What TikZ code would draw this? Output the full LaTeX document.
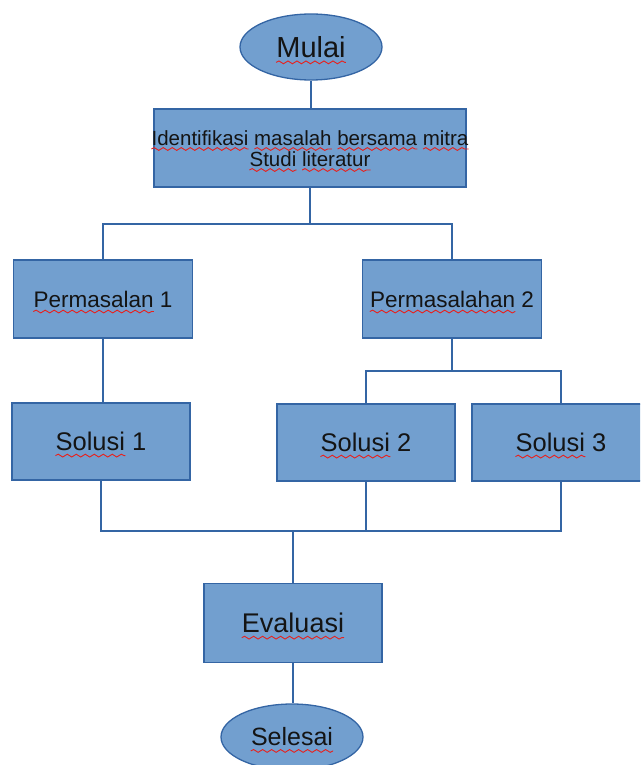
\documentclass[tikz,border=0pt]{standalone}
\usepackage{fontspec}
\setmainfont{Liberation Sans}
\usetikzlibrary{shapes.geometric,decorations.pathmorphing}
\definecolor{boxfill}{HTML}{729FCF}
\definecolor{boxline}{HTML}{3465A4}
\definecolor{wavered}{HTML}{E8201C}
\definecolor{ink}{HTML}{141414}
\newcommand\fntMulai{\fontsize{29}{33}\selectfont}
\newcommand\fntIdent{\fontsize{20.5}{24}\selectfont}
\newcommand\fntPerm{\fontsize{22.5}{26}\selectfont}
\newcommand\fntSol{\fontsize{25.5}{29}\selectfont}
\newcommand\fntEval{\fontsize{27}{31}\selectfont}
\newcommand\fntSel{\fontsize{25}{29}\selectfont}
\begin{document}
\begin{tikzpicture}[x=1pt,y=-1pt,
  box/.style={draw=boxline, line width=1.3pt, fill=boxfill, minimum width=#1, minimum height=78pt, inner sep=0pt},
  box/.default=178pt,
  oval/.style={ellipse, draw=boxline, line width=1.3pt, fill=boxfill, minimum width=142pt, minimum height=66pt, inner sep=0pt},
  conn/.style={draw=boxline, line width=1.4pt},
  txt/.style={inner sep=0pt, text=ink},
  sq/.style={draw=wavered, line width=0.9pt, decorate, decoration={snake, segment length=9pt, amplitude=1.4pt}}]
\useasboundingbox (0,0) rectangle (640,765);
\clip (0,0) rectangle (640,765);

% shapes
\node[oval] (mulai) at (311,47) {};
\node[box=312pt] (ident) at (310,148) {};
\node[box=179pt] (p1) at (103,299) {};
\node[box=179pt] (p2) at (452,299) {};
\node[box=178pt, minimum height=77pt] (s1) at (101,441.5) {};
\node[box=178pt, minimum height=77pt] (s2) at (366,442.5) {};
\node[box=178pt, minimum height=77pt] (s3) at (561,442.5) {};
\node[box=178pt, minimum height=79pt] (eval) at (293,623) {};
\node[oval] (sel) at (292,737) {};

% junction points
\coordinate (j1) at (310,224);
\coordinate (j2) at (452,371);
\coordinate (j3) at (293,531);

% connectors
\draw[conn] (mulai.south) -- (mulai.south |- ident.north);
\draw[conn] (ident.south) -- (j1);
\draw[conn] (p1.north) |- (j1) -| (p2.north);
\draw[conn] (p1.south) -- (p1.south |- s1.north);
\draw[conn] (p2.south) -- (j2);
\draw[conn] (s2.north) |- (j2) -| (s3.north);
\draw[conn] (s1.south) |- (s3.south |- j3) -- (s3.south);
\draw[conn] (s2.south) -- (s2.south |- j3);
\draw[conn] (j3) -- (eval.north);
\draw[conn] (eval.south) -- (eval.south |- sel.north);

% texts
\node[txt, font=\fntMulai] (tmulai) at (mulai) {Mulai};
\draw[sq] ([yshift=-5pt]tmulai.base west) -- ([yshift=-5pt]tmulai.base east);

\node[txt, font=\fntIdent, anchor=base] (l1) at (310,145) {Identifikasi masalah bersama mitra};
\node[txt, font=\fntIdent, anchor=base west] (wa) at (l1.base west) {\phantom{Identifikasi}};
\node[txt, font=\fntIdent, anchor=base west] (wb) at (l1.base west) {\phantom{Identifikasi masalah}};
\node[txt, font=\fntIdent, anchor=base west] (wc) at (l1.base west) {\phantom{Identifikasi masalah bersama}};
\draw[sq] ([yshift=-4pt]l1.base west) -- ([yshift=-4pt]wa.base east);
\draw[sq] ([xshift=5.7pt,yshift=-4pt]wa.base east) -- ([yshift=-4pt]wb.base east);
\draw[sq] ([xshift=5.7pt,yshift=-4pt]wb.base east) -- ([yshift=-4pt]wc.base east);
\draw[sq] ([xshift=5.7pt,yshift=-4pt]wc.base east) -- ([yshift=-4pt]l1.base east);
\node[txt, font=\fntIdent, anchor=base] (l2) at (310,166) {Studi literatur};
\node[txt, font=\fntIdent, anchor=base west] (wd) at (l2.base west) {\phantom{Studi}};
\draw[sq] ([yshift=-4pt]l2.base west) -- ([yshift=-4pt]wd.base east);
\draw[sq] ([xshift=5.7pt,yshift=-4pt]wd.base east) -- ([yshift=-4pt]l2.base east);

\node[txt, font=\fntPerm] (tp1) at (p1) {Permasalan 1};
\node[txt, font=\fntPerm, anchor=base west] (wp1) at (tp1.base west) {\phantom{Permasalan}};
\draw[sq] ([yshift=-4.5pt]tp1.base west) -- ([yshift=-4.5pt]wp1.base east);

\node[txt, font=\fntPerm] (tp2) at (p2) {Permasalahan 2};
\node[txt, font=\fntPerm, anchor=base west] (wp2) at (tp2.base west) {\phantom{Permasalahan}};
\draw[sq] ([yshift=-4.5pt]tp2.base west) -- ([yshift=-4.5pt]wp2.base east);

\node[txt, font=\fntSol] (ts1) at (s1) {Solusi 1};
\node[txt, font=\fntSol, anchor=base west] (ws1) at (ts1.base west) {\phantom{Solusi}};
\draw[sq] ([yshift=-5pt]ts1.base west) -- ([yshift=-5pt]ws1.base east);

\node[txt, font=\fntSol] (ts2) at (s2) {Solusi 2};
\node[txt, font=\fntSol, anchor=base west] (ws2) at (ts2.base west) {\phantom{Solusi}};
\draw[sq] ([yshift=-5pt]ts2.base west) -- ([yshift=-5pt]ws2.base east);

\node[txt, font=\fntSol] (ts3) at (s3) {Solusi 3};
\node[txt, font=\fntSol, anchor=base west] (ws3) at (ts3.base west) {\phantom{Solusi}};
\draw[sq] ([yshift=-5pt]ts3.base west) -- ([yshift=-5pt]ws3.base east);

\node[txt, font=\fntEval] (teval) at (eval) {Evaluasi};
\draw[sq] ([yshift=-5pt]teval.base west) -- ([yshift=-5pt]teval.base east);

\node[txt, font=\fntSel] (tsel) at (sel) {Selesai};
\draw[sq] ([yshift=-5pt]tsel.base west) -- ([yshift=-5pt]tsel.base east);
\end{tikzpicture}
\end{document}
